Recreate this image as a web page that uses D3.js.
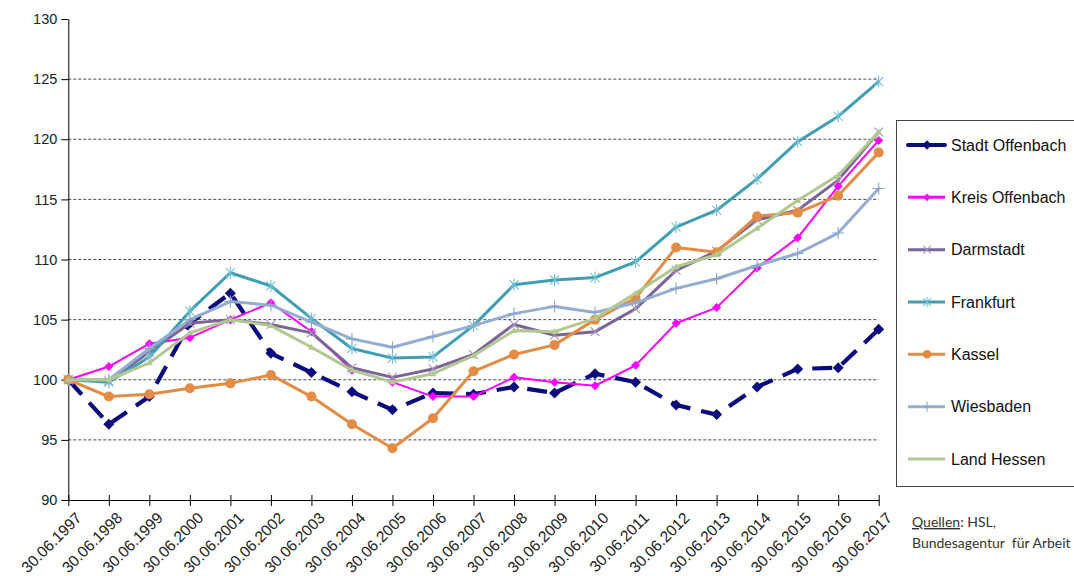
<!DOCTYPE html>
<html>
<head>
<meta charset="utf-8">
<script src="https://cdn.jsdelivr.net/npm/d3@7/dist/d3.min.js"></script>
<style>
  html, body { margin: 0; padding: 0; background: #fff; }
  svg { display: block; }
  .tick text { font-family: "Liberation Sans", Arial, sans-serif; font-size: 14.5px; fill: #222; }
  .xaxis .tick text { font-size: 15.5px; }
</style>
</head>
<body>
<svg id="chart" width="1074" height="576"></svg>
<script>
// Stichtage 30.06. jedes Jahres, Index 1997 = 100
const years = d3.range(1997, 2018);
const dateLabels = years.map(y => "30.06." + y);
const yTicks = [90, 95, 100, 105, 110, 115, 120, 125, 130];

const stadtOffenbach = [100, 96.3, 98.6, 104.7, 107.2, 102.2, 100.6, 99.0, 97.5, 98.9, 98.8, 99.4, 98.9, 100.5, 99.8, 97.9, 97.1, 99.4, 100.9, 101.0, 104.2];
const kreisOffenbach = [100, 101.1, 103.0, 103.5, 105.0, 106.4, 104.0, 100.8, 99.8, 98.6, 98.6, 100.2, 99.8, 99.5, 101.2, 104.7, 106.0, 109.3, 111.8, 116.1, 119.9];
const darmstadt      = [100, 99.9, 102.3, 104.7, 105.0, 104.6, 103.9, 101.0, 100.2, 100.9, 102.1, 104.6, 103.7, 104.0, 105.9, 109.1, 110.7, 113.3, 114.1, 116.6, 120.6];
const frankfurt      = [100, 99.8, 101.9, 105.7, 108.9, 107.8, 105.1, 102.6, 101.8, 101.9, 104.5, 107.9, 108.3, 108.5, 109.8, 112.7, 114.1, 116.7, 119.8, 121.9, 124.8];
const kassel         = [100, 98.6, 98.8, 99.3, 99.7, 100.4, 98.6, 96.3, 94.3, 96.8, 100.7, 102.1, 102.9, 105.0, 106.8, 111.0, 110.6, 113.6, 113.9, 115.3, 118.9];
const wiesbaden      = [100, 100.0, 102.6, 105.0, 106.5, 106.2, 104.8, 103.4, 102.7, 103.6, 104.5, 105.5, 106.1, 105.6, 106.4, 107.6, 108.4, 109.5, 110.5, 112.2, 115.9];
const landHessen     = [100, 100.0, 101.4, 103.9, 105.0, 104.5, 102.7, 100.8, 99.8, 100.5, 102.0, 104.1, 104.0, 105.1, 107.2, 109.4, 110.4, 112.6, 114.9, 117.0, 120.6];

const seriesNames = ["Stadt Offenbach", "Kreis Offenbach", "Darmstadt", "Frankfurt", "Kassel", "Wiesbaden", "Land Hessen"];
const seriesValues = [stadtOffenbach, kreisOffenbach, darmstadt, frankfurt, kassel, wiesbaden, landHessen];

// Darstellung je Reihe
const styles = [
  { color: "#0b0b7d", width: 4.2, dash: "20,11", marker: "diamond", mColor: "#0b0b7d", mSize: 11 },
  { color: "#ff00ff", width: 2,   dash: null,    marker: "diamond", mColor: "#ff00ff", mSize: 9 },
  { color: "#7b6497", width: 3,   dash: null,    marker: "x",       mColor: "#a391bd", mSize: 11 },
  { color: "#3f9eb2", width: 3,   dash: null,    marker: "star",    mColor: "#72c2d6", mSize: 12 },
  { color: "#e38c45", width: 3,   dash: null,    marker: "circle",  mColor: "#e38c45", mSize: 10 },
  { color: "#94aed2", width: 3,   dash: null,    marker: "plus",    mColor: "#8ba6c9", mSize: 12 },
  { color: "#b1c991", width: 3,   dash: null,    marker: "triangle",mColor: "#b1c991", mSize: 7 }
];

const svg = d3.select("#chart");
const plotLeft = 68.3, plotRight = 878.7, plotTop = 19, plotBottom = 500;

const x = d3.scalePoint().domain(dateLabels).range([plotLeft, plotRight]);
const y = d3.scaleLinear().domain([90, 130]).range([plotBottom, plotTop]);

// Gitternetzlinien
svg.append("g")
  .selectAll("line")
  .data(yTicks.filter(v => v > 90 && v < 130))
  .join("line")
  .attr("x1", plotLeft).attr("x2", plotRight)
  .attr("y1", d => y(d)).attr("y2", d => y(d))
  .attr("stroke", "#4a4a4a").attr("stroke-width", 1)
  .attr("stroke-dasharray", "3,2");

// Y-Achse
const yAxis = svg.append("g")
  .attr("transform", `translate(${plotLeft},0)`)
  .call(d3.axisLeft(y).tickValues(yTicks).tickSize(7).tickSizeOuter(0).tickPadding(4));
yAxis.select(".domain").attr("stroke", "#000");
yAxis.selectAll(".tick line").attr("stroke", "#000");

// X-Achse mit kreuzenden Teilstrichen
const xAxis = svg.append("g")
  .attr("class", "xaxis")
  .attr("transform", `translate(0,${plotBottom})`)
  .call(d3.axisBottom(x).tickSize(6).tickSizeOuter(0));
xAxis.select(".domain").attr("stroke", "#000");
xAxis.selectAll(".tick line").attr("y1", -5).attr("y2", 6).attr("stroke", "#000");
xAxis.selectAll(".tick text")
  .attr("text-anchor", "end")
  .attr("dy", 0)
  .attr("transform", "translate(6,11) rotate(-45)")
  .attr("y", 0).attr("x", 0)
  .attr("dominant-baseline", "hanging");

function drawMarker(g, type, cx, cy, s, color) {
  const h = s / 2;
  if (type === "diamond") {
    g.append("path").attr("d", `M${cx},${cy - h}L${cx + h},${cy}L${cx},${cy + h}L${cx - h},${cy}Z`).attr("fill", color);
  } else if (type === "circle") {
    g.append("circle").attr("cx", cx).attr("cy", cy).attr("r", h).attr("fill", color);
  } else if (type === "x") {
    const k = h * 0.8;
    g.append("path").attr("d", `M${cx - k},${cy - k}L${cx + k},${cy + k}M${cx - k},${cy + k}L${cx + k},${cy - k}`)
      .attr("stroke", color).attr("stroke-width", 1.1).attr("fill", "none");
  } else if (type === "star") {
    const k = h * 0.75;
    g.append("path").attr("d", `M${cx - k},${cy - k}L${cx + k},${cy + k}M${cx - k},${cy + k}L${cx + k},${cy - k}M${cx},${cy - h}L${cx},${cy + h}`)
      .attr("stroke", color).attr("stroke-width", 1.1).attr("fill", "none");
  } else if (type === "plus") {
    g.append("path").attr("d", `M${cx},${cy - h}L${cx},${cy + h}M${cx - h},${cy}L${cx + h},${cy}`)
      .attr("stroke", color).attr("stroke-width", 1.1).attr("fill", "none");
  } else if (type === "triangle") {
    g.append("path").attr("d", `M${cx},${cy - h}L${cx + h},${cy + h * 0.7}L${cx - h},${cy + h * 0.7}Z`).attr("fill", color);
  }
}

// Linien der Reihen
const line = d3.line().x((d, i) => x(dateLabels[i])).y(d => y(d));
seriesValues.forEach((vals, si) => {
  const st = styles[si];
  const g = svg.append("g");
  g.append("path")
    .datum(vals)
    .attr("d", line)
    .attr("fill", "none")
    .attr("stroke", st.color)
    .attr("stroke-width", st.width)
    .attr("stroke-linejoin", "round")
    .attr("stroke-linecap", st.dash ? "butt" : "round")
    .attr("stroke-dasharray", st.dash);
  vals.forEach((v, i) => drawMarker(g, st.marker, x(dateLabels[i]), y(v), st.mSize, st.mColor));
});

// Legende
const lg = svg.append("g");
lg.append("rect")
  .attr("x", 896.5).attr("y", 120.5).attr("width", 190).attr("height", 366)
  .attr("fill", "#fff").attr("stroke", "#444").attr("stroke-width", 1);
const legendY = d3.scalePoint().domain(seriesNames).range([145, 459]);
seriesNames.forEach((name, si) => {
  const st = styles[si];
  const cy = legendY(name);
  lg.append("line").attr("x1", 908).attr("x2", 945).attr("y1", cy).attr("y2", cy)
    .attr("stroke", st.color).attr("stroke-width", si === 0 ? 4 : 3).attr("stroke-linecap", si === 0 ? "round" : "butt");
  if (si !== 6) drawMarker(lg, st.marker, 927, cy, st.mSize * 0.85, st.mColor);
  lg.append("text")
    .attr("x", 951).attr("y", cy).attr("dy", "0.35em")
    .attr("font-family", "'Liberation Sans', Arial, sans-serif")
    .attr("font-size", "16px").attr("fill", "#111")
    .text(name);
});

// Quellenangabe
const src = svg.append("g")
  .attr("font-family", "Lato, 'Open Sans', sans-serif")
  .attr("font-size", "14px").attr("fill", "#333");
const t1 = src.append("text").attr("x", 912).attr("y", 527);
t1.append("tspan").attr("text-decoration", "underline").text("Quellen");
t1.append("tspan").text(": HSL,");
src.append("text").attr("x", 912).attr("y", 548).attr("xml:space", "preserve").text("Bundesagentur  für Arbeit");
</script>
</body>
</html>
